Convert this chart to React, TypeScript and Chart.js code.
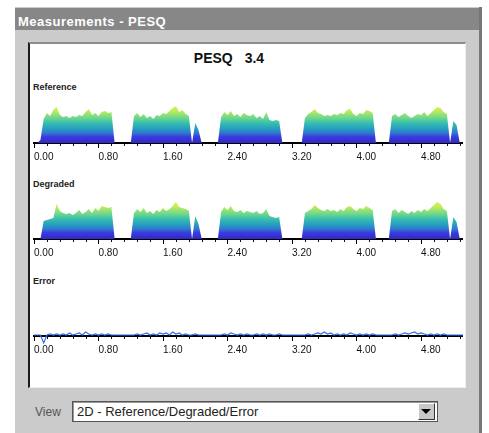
import React, { useEffect, useRef } from 'react';
import { Chart, registerables } from 'chart.js';
Chart.register(...registerables);

// ---- data ----
const TIME_STEP = 0.04; // seconds per frame
const X_MAX = 5.32;
const Y_MAX = 40;
const MAJOR_TICKS = [0, 0.8, 1.6, 2.4, 3.2, 4.0, 4.8];
const TICK_LABELS = ['0.00', '0.80', '1.60', '2.40', '3.20', '4.00', '4.80'];
const MINOR_STEP = 0.16;

const REFERENCE = [
  0, 0, 3, 24, 30, 27, 33, 36, 28, 26,
  27, 25, 27, 26, 28, 27, 31, 34, 28, 30,
  27, 31, 32, 30, 31, 0, 0, 0, 0, 0,
  0, 27, 30, 26, 29, 25, 27, 24, 28, 27,
  30, 29, 32, 35, 37, 31, 33, 29, 27, 0,
  20, 13, 0, 0, 0, 0, 0, 0, 26, 31,
  28, 32, 27, 29, 26, 30, 28, 27, 29, 25,
  27, 24, 31, 23, 22, 23, 22, 0, 0, 0,
  0, 0, 0, 0, 25, 29, 31, 34, 30, 29,
  27, 28, 27, 29, 28, 30, 29, 33, 34, 29,
  27, 30, 29, 33, 32, 30, 0, 0, 0, 0,
  0, 27, 29, 26, 28, 30, 27, 25, 27, 29,
  28, 31, 27, 30, 33, 36, 35, 31, 29, 0,
  22, 18, 0, 0,
];

const DEGRADED = [
  0, 0, 0, 18, 19, 20, 21, 35, 28, 26,
  25, 26, 24, 26, 29, 25, 27, 30, 26, 31,
  28, 33, 32, 31, 32, 0, 0, 0, 0, 0,
  0, 26, 30, 27, 31, 26, 28, 25, 29, 27,
  31, 28, 30, 33, 37, 32, 31, 30, 28, 0,
  23, 15, 0, 0, 0, 0, 0, 0, 27, 32,
  29, 33, 28, 27, 29, 26, 28, 27, 26, 28,
  25, 26, 30, 23, 22, 21, 22, 0, 0, 0,
  0, 0, 0, 0, 26, 28, 30, 34, 31, 29,
  28, 30, 28, 29, 27, 30, 28, 32, 33, 30,
  28, 31, 30, 33, 31, 29, 0, 0, 0, 0,
  0, 28, 30, 26, 29, 27, 25, 28, 26, 29,
  27, 30, 28, 31, 34, 37, 35, 30, 28, 0,
  22, 17, 0, 0,
];

const ERROR = [
  1, 1, 1, -7, 1, 2, 1, 2, 1, 2,
  1, 3, 1, 2, 3, 1, 4, 2, 1, 2,
  1, 2, 1, 2, 1, 1, 1, 1, 1, 1,
  1, 1, 2, 1, 2, 3, 1, 2, 1, 3,
  2, 3, 1, 4, 2, 3, 1, 2, 1, 1,
  2, 1, 1, 1, 1, 1, 1, 1, 1, 2,
  1, 3, 2, 1, 2, 1, 2, 1, 1, 2,
  1, 2, 1, 2, 1, 1, 2, 1, 1, 1,
  1, 1, 1, 1, 1, 2, 1, 2, 3, 2,
  4, 2, 3, 1, 2, 1, 2, 1, 3, 2,
  1, 2, 1, 2, 1, 2, 1, 1, 1, 1,
  1, 1, 2, 1, 2, 3, 2, 3, 4, 2,
  3, 2, 1, 2, 1, 2, 1, 2, 1, 1,
  1, 1, 1, 1,
];

const GRADIENT_STOPS: [number, string][] = [
  [0, '#3028c4'],
  [0.16, '#3c3ce0'],
  [0.24, '#2f74d0'],
  [0.36, '#279ec2'],
  [0.5, '#38bfae'],
  [0.64, '#74d98a'],
  [0.8, '#bdec5a'],
  [1, '#eef43c'],
];

const FONT = '"Liberation Sans", Arial, sans-serif';

const minorTicks = {
  id: 'minorTicks',
  afterDraw(chart: any) {
    const xs = chart.scales.x;
    const ctx = chart.ctx;
    const yb = chart.chartArea.bottom;
    ctx.save();
    ctx.strokeStyle = '#111';
    ctx.lineWidth = 1;
    for (let k = 1; k * MINOR_STEP <= X_MAX + 1e-9; k++) {
      if (k % 5 === 0) continue;
      const px = Math.round(xs.getPixelForValue(k * MINOR_STEP)) + 0.5;
      ctx.beginPath();
      ctx.moveTo(px, yb);
      ctx.lineTo(px, yb + 3);
      ctx.stroke();
    }
    ctx.restore();
  },
};

function Panel({ values, top, kind }: { values: number[]; top: number; kind: 'area' | 'line' }) {
  const ref = useRef<HTMLCanvasElement>(null);
  useEffect(() => {
    const data = values.map((v, i) => ({ x: i * TIME_STEP, y: v }));
    const dataset: any =
      kind === 'area'
        ? {
            data,
            fill: 'origin',
            borderWidth: 0,
            pointRadius: 0,
            tension: 0,
            backgroundColor: (c: any) => {
              const chart = c.chart;
              if (!chart.chartArea) return '#3c3ce0';
              const ys = chart.scales.y;
              const g = chart.ctx.createLinearGradient(0, ys.getPixelForValue(0), 0, ys.getPixelForValue(Y_MAX));
              GRADIENT_STOPS.forEach(([o, col]) => g.addColorStop(o, col));
              return g;
            },
          }
        : {
            data,
            fill: false,
            borderWidth: 1.2,
            borderColor: '#2f6ff0',
            pointRadius: 0,
            clip: false,
          };
    const chart = new Chart(ref.current!, {
      type: 'line',
      data: { datasets: [dataset] },
      options: {
        animation: false,
        responsive: false,
        events: [],
        layout: { padding: 0, autoPadding: false },
        plugins: { legend: { display: false }, tooltip: { enabled: false } },
        scales: {
          x: {
            type: 'linear',
            min: 0,
            max: X_MAX,
            afterBuildTicks: (s: any) => {
              s.ticks = MAJOR_TICKS.map((v) => ({ value: v }));
            },
            afterFit: (s: any) => {
              s.height = 22;
            },
            border: { display: true, color: '#000', width: 2 },
            grid: { drawOnChartArea: false, drawTicks: true, tickLength: 5, tickColor: '#000', tickWidth: 1 },
            ticks: {
              align: 'start',
              padding: 3,
              color: '#111',
              font: { family: FONT, size: 10 },
              callback: (_v: any, i: number) => TICK_LABELS[i],
              maxRotation: 0,
              autoSkip: false,
            },
          },
          y: { display: false, min: 0, max: Y_MAX },
        },
      },
      plugins: [minorTicks],
    } as any);
    return () => chart.destroy();
  }, []);
  return (
    <canvas
      ref={ref}
      width={432}
      height={62}
      style={{ position: 'absolute', left: 31, top, width: 432, height: 62 }}
    />
  );
}

export default function App() {
  const abs = (s: React.CSSProperties): React.CSSProperties => ({ position: 'absolute', ...s });
  return (
    <div style={abs({ left: 0, top: 0, width: 489, height: 433, background: '#fff', overflow: 'hidden', fontFamily: FONT })}>
      {/* window body */}
      <div style={abs({ left: 15, top: 7, width: 464, height: 426, background: '#cbcbcb', borderRight: '3px solid #777' })} />
      {/* title bar */}
      <div style={abs({ left: 15, top: 8, width: 464, height: 22, background: '#878787' })} />
      <div style={abs({ left: 18, top: 14, color: '#fff', fontWeight: 'bold', fontSize: 13, letterSpacing: 0.5, lineHeight: '15px', whiteSpace: 'nowrap' })}>
        Measurements - PESQ
      </div>
      {/* white chart panel */}
      <div style={abs({ left: 28, top: 42, width: 435, height: 343, background: '#fff', borderLeft: '2px solid #1a1a1a', borderTop: '2px solid #8c8c8c', borderRight: '1px solid #eee', borderBottom: '1px solid #eee' })} />
      <div style={abs({ left: 179, top: 50, width: 100, textAlign: 'center', fontSize: 14, fontWeight: 'bold', wordSpacing: 8, color: '#111', lineHeight: '16px', whiteSpace: 'nowrap' })}>
        PESQ 3.4
      </div>
      <div style={abs({ left: 33, top: 82, fontSize: 9, fontWeight: 'bold', color: '#222', lineHeight: '10px' })}>Reference</div>
      <Panel values={REFERENCE} top={103} kind="area" />
      <div style={abs({ left: 33, top: 179, fontSize: 9, fontWeight: 'bold', color: '#222', lineHeight: '10px' })}>Degraded</div>
      <Panel values={DEGRADED} top={199} kind="area" />
      <div style={abs({ left: 33, top: 276, fontSize: 9, fontWeight: 'bold', color: '#222', lineHeight: '10px' })}>Error</div>
      <Panel values={ERROR} top={296} kind="line" />
      {/* view selector */}
      <div style={abs({ left: 35, top: 405, fontSize: 12, color: '#555', lineHeight: '14px' })}>View</div>
      <div style={abs({ left: 72, top: 401, width: 364, height: 19, background: '#fff', border: '1px solid #555', boxShadow: 'inset 1px 1px #999' })} />
      <div style={abs({ left: 77, top: 403, fontSize: 13, color: '#222', lineHeight: '17px', whiteSpace: 'nowrap' })}>
        2D - Reference/Degraded/Error
      </div>
      <div style={abs({ left: 418, top: 403, width: 15, height: 15, background: '#c8c8c8', borderTop: '1px solid #fff', borderLeft: '1px solid #fff', borderRight: '1px solid #333', borderBottom: '1px solid #333' })} />
      <div style={abs({ left: 421, top: 409, width: 0, height: 0, borderLeft: '5px solid transparent', borderRight: '5px solid transparent', borderTop: '5px solid #000' })} />
    </div>
  );
}
